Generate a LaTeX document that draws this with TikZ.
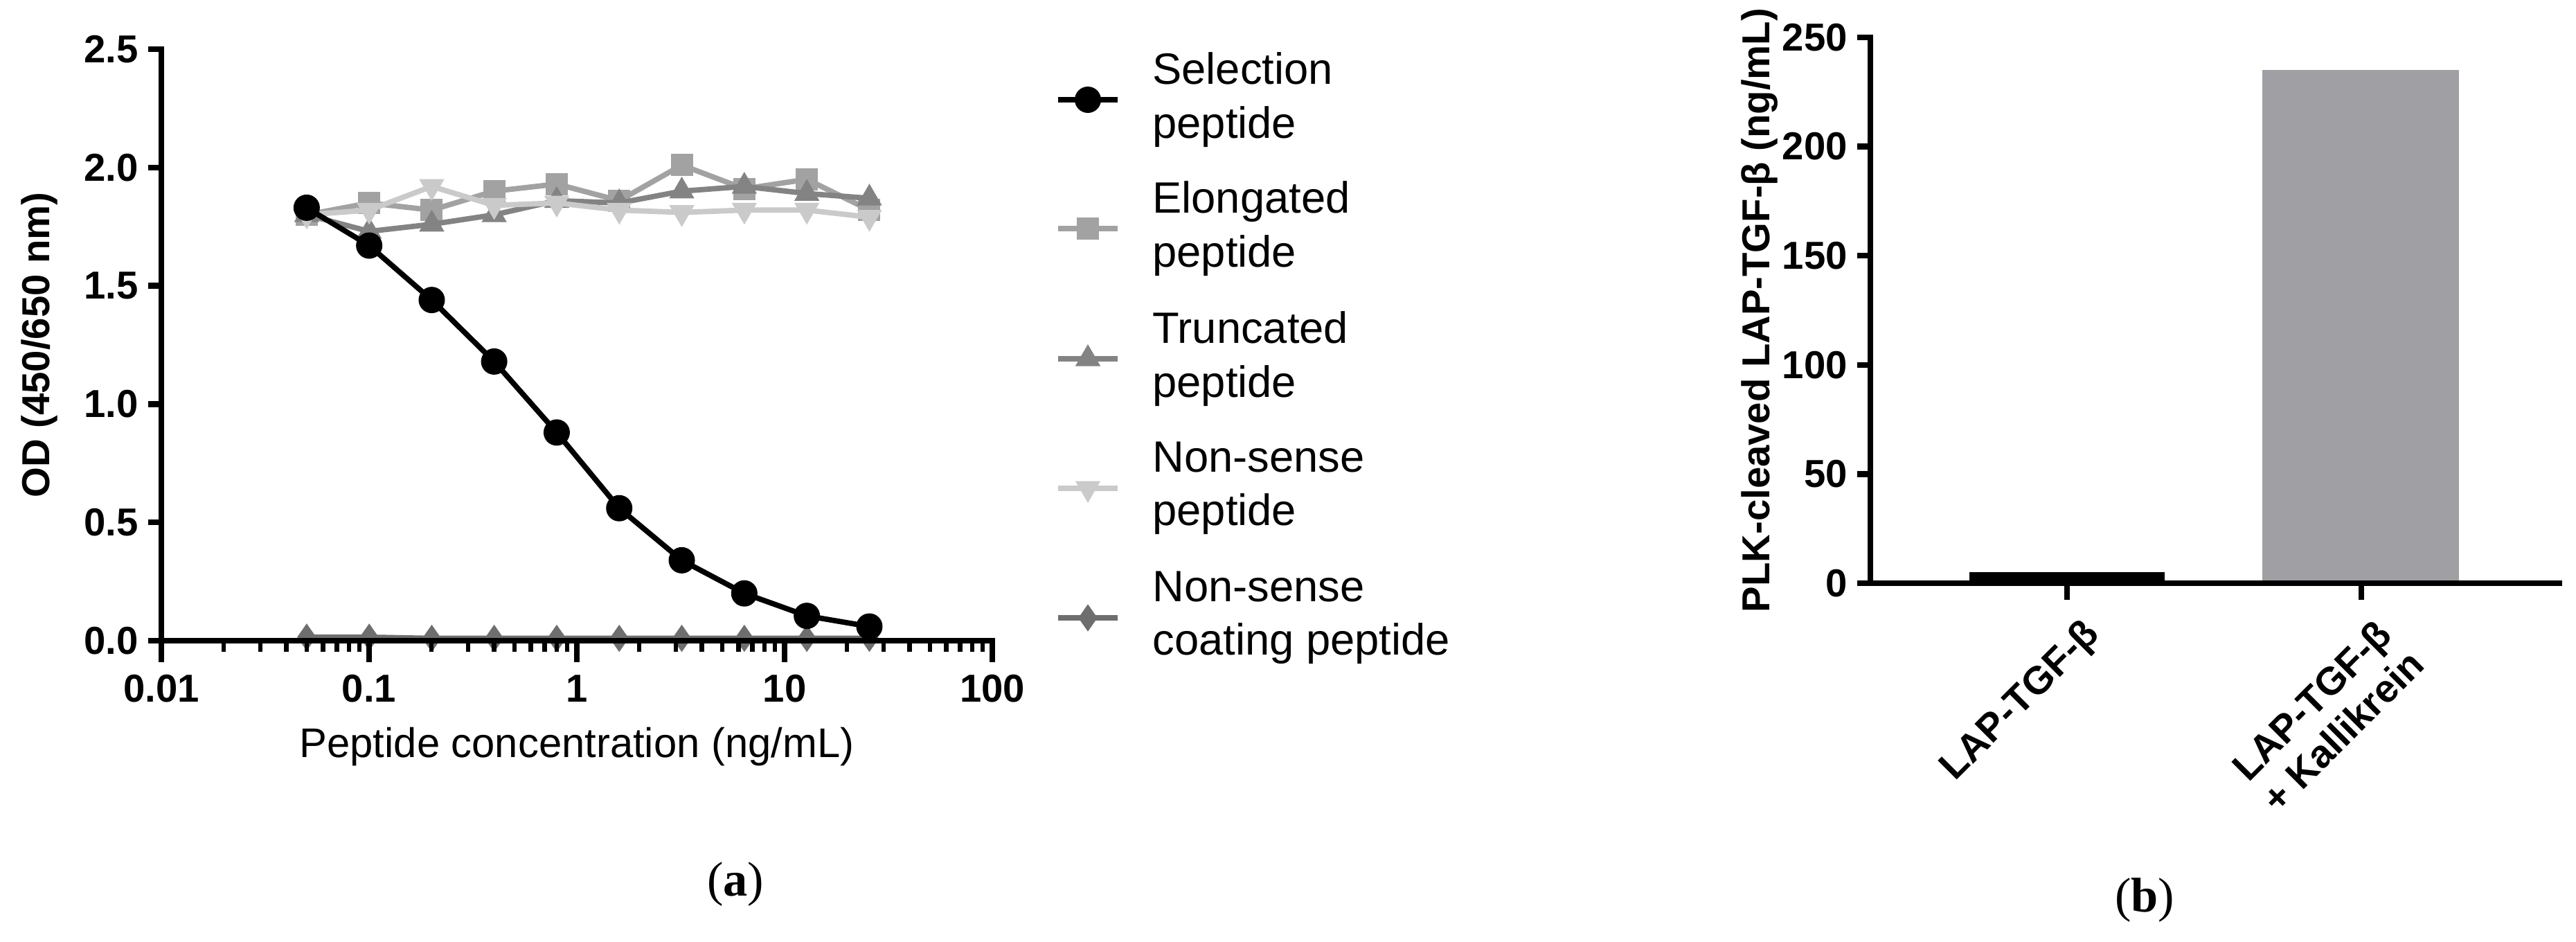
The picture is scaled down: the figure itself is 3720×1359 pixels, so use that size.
\documentclass[tikz,border=0pt]{standalone}
\usepackage{fontspec}
\setmainfont{Liberation Sans}
\newfontfamily\capfont{Liberation Serif}
\usetikzlibrary{shapes.geometric}
\definecolor{cE}{HTML}{A2A2A2}
\definecolor{cT}{HTML}{838383}
\definecolor{cN}{HTML}{CACACA}
\definecolor{cC}{HTML}{6E6E6E}
\definecolor{cBar}{HTML}{A0A0A4}
\tikzset{
  axisline/.style={line width=2.4pt, line cap=rect},
  ticklab/.style={font=\fontsize{16}{18}\selectfont\bfseries},
  legtext/.style={font=\fontsize{18}{22}\selectfont, align=left, anchor=west},
  dline/.style={line width=2.2pt},
  mcirc/.style={circle, fill, inner sep=0pt, minimum size=0.38cm},
  msq/.style={rectangle, fill, inner sep=0pt, minimum size=0.32cm},
  mup/.style={regular polygon, regular polygon sides=3, fill, inner sep=0pt, minimum size=0.42cm},
  mdown/.style={regular polygon, regular polygon sides=3, shape border rotate=180, fill, inner sep=0pt, minimum size=0.42cm},
  mdia/.style={diamond, fill, inner sep=0pt, minimum width=0.28cm, minimum height=0.4cm},
}
\begin{document}
\begin{tikzpicture}[x=0.01cm,y=-0.01cm]
\useasboundingbox (0,0) rectangle (3720,1359);
% ===== panel (a) =====
\foreach \vals/\col/\mk in {
 {1.80,1.85,1.82,1.90,1.93,1.86,2.01,1.91,1.95,1.82}/cE/msq,
 {1.80,1.73,1.76,1.80,1.86,1.85,1.90,1.92,1.89,1.87}/cT/mup,
 {1.80,1.82,1.92,1.84,1.85,1.82,1.81,1.82,1.82,1.79}/cN/mdown,
 {0.015,0.015,0.01,0.01,0.01,0.01,0.01,0.01,0.01,0.01}/cC/mdia,
 {1.83,1.67,1.44,1.18,0.88,0.56,0.34,0.20,0.105,0.06}/black/mcirc}{
  \foreach \v [count=\k from 0] in \vals {
    \pgfmathsetmacro\xx{233+300*(log10(0.05*2^\k)+2)}
    \pgfmathsetmacro\yy{925-341.6*\v}
    \coordinate (p\k) at (\xx,\yy);
  }
  \draw[dline,\col] (p0)--(p1)--(p2)--(p3)--(p4)--(p5)--(p6)--(p7)--(p8)--(p9);
  \foreach \k in {0,...,9} \node[\mk,\col] at (p\k) {};
}
% axes
\draw[axisline] (233,71) -- (233,925) -- (1433,925);
\foreach \v/\l in {0/0.0,0.5/0.5,1/1.0,1.5/1.5,2/2.0,2.5/2.5}{
  \draw[axisline] (233,{925-341.6*\v}) -- (218,{925-341.6*\v});
  \node[ticklab,anchor=east] at (212,{925-341.6*\v}) {\l};
}
\foreach \d/\l [count=\i from 0] in {0/0.01,1/0.1,2/1,3/10,4/100}{
  \draw[axisline] ({233+300*\d},925) -- ({233+300*\d},952);
  \node[ticklab,anchor=north] at ({233+300*\d},962) {\l};
}
\foreach \d in {0,1,2,3}{
  \foreach \m in {2,...,9}{
    \draw[line width=1.8pt] ({233+300*(\d+log10(\m))},925) -- ({233+300*(\d+log10(\m))},941);
  }
}
\node[font=\fontsize{16}{18}\selectfont\bfseries, rotate=90] (ylab) at (57,498) {OD (450/650 nm)};
\node[font=\fontsize{17}{20}\selectfont] (xlab) at (833,1078) {Peptide concentration (ng/mL)};
% legend
\foreach \y/\col/\mk/\txt in {
 144/black/mcirc/{Selection\\peptide},
 330/cE/msq/{Elongated\\peptide},
 518/cT/mup/{Truncated\\peptide},
 705/cN/mdown/{Non-sense\\peptide},
 892/cC/mdia/{Non-sense\\coating peptide}}{
  \draw[dline,\col] (1528,\y) -- (1614,\y);
  \node[\mk,\col] at (1571,\y) {};
  \node[legtext] at (1652,\y) {\txt};
}
\node[font=\capfont\fontsize{20}{24}\selectfont] (capa) at (1062,1277) {(\textbf{a})};
% ===== panel (b) =====
\fill[black] (2844,826) rectangle (3126,842);
\fill[cBar] (3267,101) rectangle (3551,842);
\draw[axisline] (2701,54) -- (2701,842) -- (3696,842);
\foreach \v in {0,50,100,150,200,250}{
  \draw[axisline] (2701,{842-3.152*\v}) -- (2686,{842-3.152*\v});
  \node[ticklab,anchor=east] at (2680,{842-3.152*\v}) {\v};
}
\draw[axisline] (2985,842) -- (2985,862);
\draw[axisline] (3410,842) -- (3410,862);
\node[ticklab,anchor=north east,rotate=45] (l1) at (3005,872) {LAP-TGF-β};
\node[ticklab,anchor=north east,rotate=45,align=center] (l2) at (3430,872) {LAP-TGF-β\\+ Kallikrein};
\node[ticklab,rotate=90] (ylab2) at (2541,448) {PLK-cleaved LAP-TGF-β (ng/mL)};
\node[font=\capfont\fontsize{20}{24}\selectfont] (capb) at (3097,1300) {(\textbf{b})};
\end{tikzpicture}
\end{document}
